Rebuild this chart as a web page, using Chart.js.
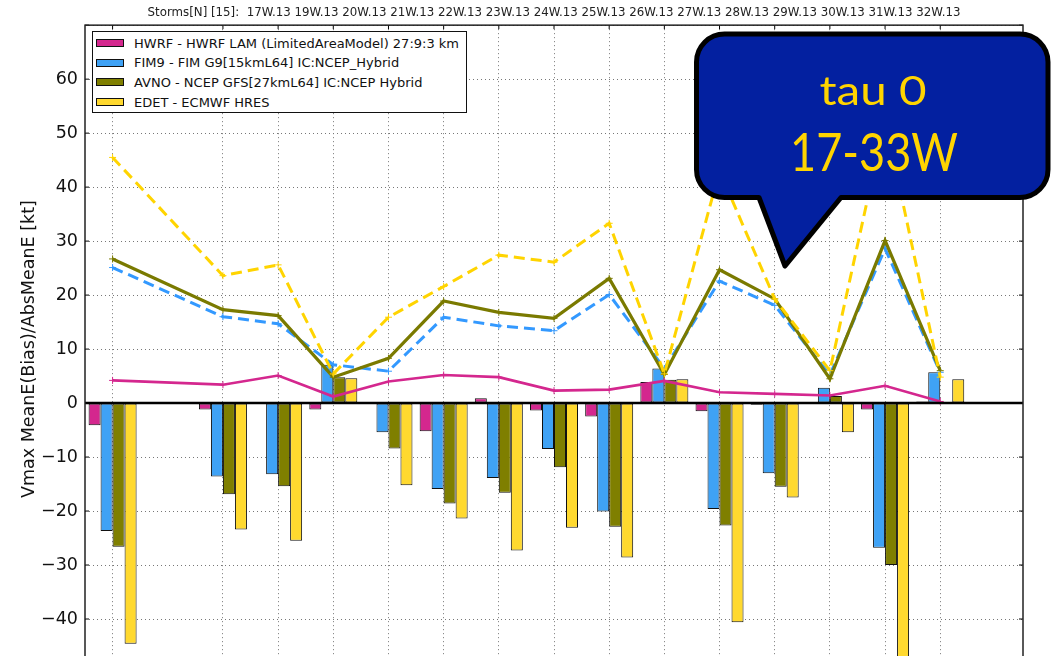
<!DOCTYPE html>
<html>
<head>
<meta charset="utf-8">
<title>Vmax bias</title>
<script src="https://cdn.jsdelivr.net/npm/chart.js@4.4.1/dist/chart.umd.min.js"></script>
<style>
    html, body { margin: 0; padding: 0; background: #fff; overflow: hidden; }
    #wrap { position: relative; width: 1058px; height: 700px; }
    #canvas1 { position: absolute; left: 0; top: 0; }
    .legend {
        position: absolute; left: 92px; top: 31px; width: 375px; height: 82px;
        box-sizing: border-box; border: 1px solid #111; background: #fff;
        font-family: "DejaVu Sans"; font-size: 13px; color: #111;
    }
    .legend .row { position: absolute; left: 3px; height: 16px; display: flex; align-items: center; white-space: nowrap; }
    .legend .patch { width: 26px; height: 6px; border: 1px solid #111; margin-right: 10px; }
    .callout { position: absolute; left: 0; top: 0; }
</style>
</head>
<body>
<div id="wrap">
    <canvas id="canvas1" width="1058" height="700"></canvas>
    <div class="legend" id="legend"></div>
    <svg class="callout" width="1058" height="300">
        <path d="M 724.5 34 L 1020 34 A 28 28 0 0 1 1048 62 L 1048 169.5 A 28 28 0 0 1 1020 197.5 L 841 197.5 L 785 266 L 759 197.5 L 724.5 197.5 A 28 28 0 0 1 696.5 169.5 L 696.5 62 A 28 28 0 0 1 724.5 34 Z"
              fill="#0320a0" stroke="#000" stroke-width="5" stroke-linejoin="round"/>
        <text x="873" y="105" text-anchor="middle" font-family="Lato" font-size="41.5" fill="#ffd400"
              textLength="107" lengthAdjust="spacingAndGlyphs">tau 0</text>
        <text x="874" y="170.5" text-anchor="middle" font-family="Lato" font-size="53" fill="#ffd400"
              textLength="168" lengthAdjust="spacingAndGlyphs">17-33W</text>
    </svg>
</div>
<script>
// every slot on the x axis (18W and 33W have no cases)
const slots = ['17W.13', '18W.13', '19W.13', '20W.13', '21W.13', '22W.13', '23W.13', '24W.13', '25W.13',
    '26W.13', '27W.13', '28W.13', '29W.13', '30W.13', '31W.13', '32W.13', '33W.13'];
const storms = ['17W.13', '19W.13', '20W.13', '21W.13', '22W.13', '23W.13', '24W.13', '25W.13',
    '26W.13', '27W.13', '28W.13', '29W.13', '30W.13', '31W.13', '32W.13'];

const models = [
    'HWRF - HWRF LAM (LimitedAreaModel) 27:9:3 km',
    'FIM9 - FIM G9[15kmL64] IC:NCEP_Hybrid',
    'AVNO - NCEP GFS[27kmL64] IC:NCEP Hybrid',
    'EDET - ECMWF HRES'
];
const barColors = ['#d4278e', '#3fa2f5', '#7f7f00', '#ffd92f'];
const lineColors = ['#d4278e', '#3399ff', '#7a7a00', '#ffd400'];

// mean error (bias), kt
const biasHWRF = [-4.1, null, -1.2, 0, -1.2, 0.1, -5.2, 0.9, -1.4, -2.5, 3.9, -1.5, -0.3, 0.1, -1.2, 0.3, null];
const biasFIM9 = [-23.7, null, -13.6, -13.2, 7.1, -5.4, -15.9, -13.9, -8.5, -20.1, 6.4, -19.6, -13.0, 2.85, -26.8, 5.7, null];
const biasAVNO = [-26.6, null, -16.9, -15.4, 4.8, -8.4, -18.6, -16.6, -11.9, -22.9, 4.3, -22.7, -15.5, 1.3, -30.0, 0, null];
const biasEDET = [-44.6, null, -23.4, -25.5, 4.6, -15.2, -21.4, -27.3, -23.1, -28.6, 4.4, -40.6, -17.5, -5.4, -52.5, 4.4, null];

// mean absolute error, kt
const absHWRF = [4.2, null, 3.4, 5.1, 1.2, 4.0, 5.2, 4.8, 2.3, 2.5, 4.1, 2.0, 1.7, 1.4, 3.2, 0.3, null];
const absFIM9 = [25.1, null, 16.0, 14.7, 7.1, 5.9, 15.9, 14.3, 13.4, 20.1, 6.4, 22.6, 18.1, 5.2, 28.6, 5.7, null];
const absAVNO = [26.7, null, 17.3, 16.2, 4.8, 8.3, 18.9, 16.8, 15.7, 23.1, 5.3, 24.7, 19.3, 4.5, 30.1, 6.0, null];
const absEDET = [45.5, null, 23.6, 25.6, 5.4, 15.9, 21.6, 27.4, 26.1, 33.3, 5.4, 43.0, 19.3, 6.0, 52.5, 4.8, null];

const biasSeries = [biasHWRF, biasFIM9, biasAVNO, biasEDET];
const absSeries = [absHWRF, absFIM9, absAVNO, absEDET];
const dashed = [false, true, false, true];
const lineWidths = [2.7, 3, 3.2, 3];

// zero line, inward ticks and the box round the axes
const axesFrame = {
    id: 'axesFrame',
    afterDatasetsDraw(chart) {
        const { ctx, chartArea: a, scales: { x, y } } = chart;
        ctx.save();
        ctx.strokeStyle = '#000';
        ctx.lineWidth = 2.5;
        const y0 = y.getPixelForValue(0);
        ctx.beginPath();
        ctx.moveTo(a.left, y0);
        ctx.lineTo(a.right, y0);
        ctx.stroke();

        ctx.lineWidth = 1;
        ctx.beginPath();
        y.ticks.forEach(t => {
            const py = y.getPixelForValue(t.value);
            ctx.moveTo(a.left, py); ctx.lineTo(a.left + 4, py);
            ctx.moveTo(a.right, py); ctx.lineTo(a.right - 4, py);
        });
        storms.forEach(s => {
            const px = x.getPixelForValue(slots.indexOf(s));
            ctx.moveTo(px, a.top); ctx.lineTo(px, a.top + 4);
        });
        ctx.stroke();

        ctx.strokeStyle = '#222';
        ctx.lineWidth = 1.5;
        ctx.strokeRect(a.left, a.top, a.right - a.left, a.bottom - a.top);
        ctx.restore();
    }
};

function VmaxBias() {
    const datasets = [];
    models.forEach((m, i) => {
        datasets.push({
            type: 'bar',
            label: m,
            data: biasSeries[i],
            backgroundColor: barColors[i],
            borderColor: '#111',
            borderWidth: 1,
            borderSkipped: false,
            barPercentage: 1,
            categoryPercentage: 0.87,
            order: 10
        });
    });
    models.forEach((m, i) => {
        datasets.push({
            type: 'line',
            label: m,
            data: absSeries[i],
            borderColor: lineColors[i],
            borderWidth: lineWidths[i],
            borderDash: dashed[i] ? [11, 6] : [],
            pointStyle: 'cross',
            pointRadius: 3.5,
            pointBorderWidth: 1,
            pointBorderColor: lineColors[i],
            spanGaps: true,
            tension: 0,
            order: 4 - i
        });
    });

    const config = {
        type: 'bar',
        data: { labels: slots, datasets: datasets },
        options: {
            responsive: false,
            animation: false,
            devicePixelRatio: 1,
            layout: { padding: { left: 0, right: 35, top: 0, bottom: 27 } },
            plugins: {
                legend: { display: false },
                tooltip: { enabled: false },
                title: {
                    display: true,
                    text: 'Storms[N] [' + storms.length + ']:  ' + storms.join(' '),
                    fullSize: false,
                    color: '#222',
                    font: { family: 'DejaVu Sans', size: 11.8, weight: 'normal' },
                    padding: { top: 5.5, bottom: 5.5 }
                }
            },
            scales: {
                x: {
                    offset: true,
                    ticks: { display: false },
                    border: { display: false, dash: [1, 3] },
                    grid: {
                        offset: false,
                        drawTicks: false,
                        lineWidth: 1,
                        color: ctx => storms.includes(ctx.tick && ctx.tick.label) ? '#777' : 'rgba(0,0,0,0)'
                    },
                    afterFit: s => { s.height = 0; }
                },
                y: {
                    min: -50,
                    max: 70,
                    ticks: {
                        stepSize: 10,
                        padding: 7,
                        color: '#111',
                        font: { family: 'DejaVu Sans', size: 17.5 },
                        callback: v => v === 70 ? '' : (v < 0 ? '\u2212' + Math.abs(v) : String(v))
                    },
                    border: { display: false, dash: [1, 3] },
                    grid: { drawTicks: false, color: '#777', lineWidth: 1 },
                    title: {
                        display: true,
                        text: 'Vmax MeanE(Bias)/AbsMeanE [kt]',
                        color: '#111',
                        font: { family: 'DejaVu Sans', size: 17.5 },
                        padding: { top: 19, bottom: 0 }
                    },
                    afterFit: s => { s.width = 85; }
                }
            }
        },
        plugins: [axesFrame]
    };

    var canvas = document.getElementById('canvas1');
    const chart = new Chart(canvas, config);

    // legend entries built from the same model list
    const box = document.getElementById('legend');
    models.forEach((m, i) => {
        const row = document.createElement('div');
        row.className = 'row';
        row.style.top = (3 + i * 19.7) + 'px';
        const patch = document.createElement('span');
        patch.className = 'patch';
        patch.style.background = barColors[i];
        const txt = document.createElement('span');
        txt.textContent = m;
        row.appendChild(patch);
        row.appendChild(txt);
        box.appendChild(row);
    });
    return chart;
}

VmaxBias();
</script>
</body>
</html>
